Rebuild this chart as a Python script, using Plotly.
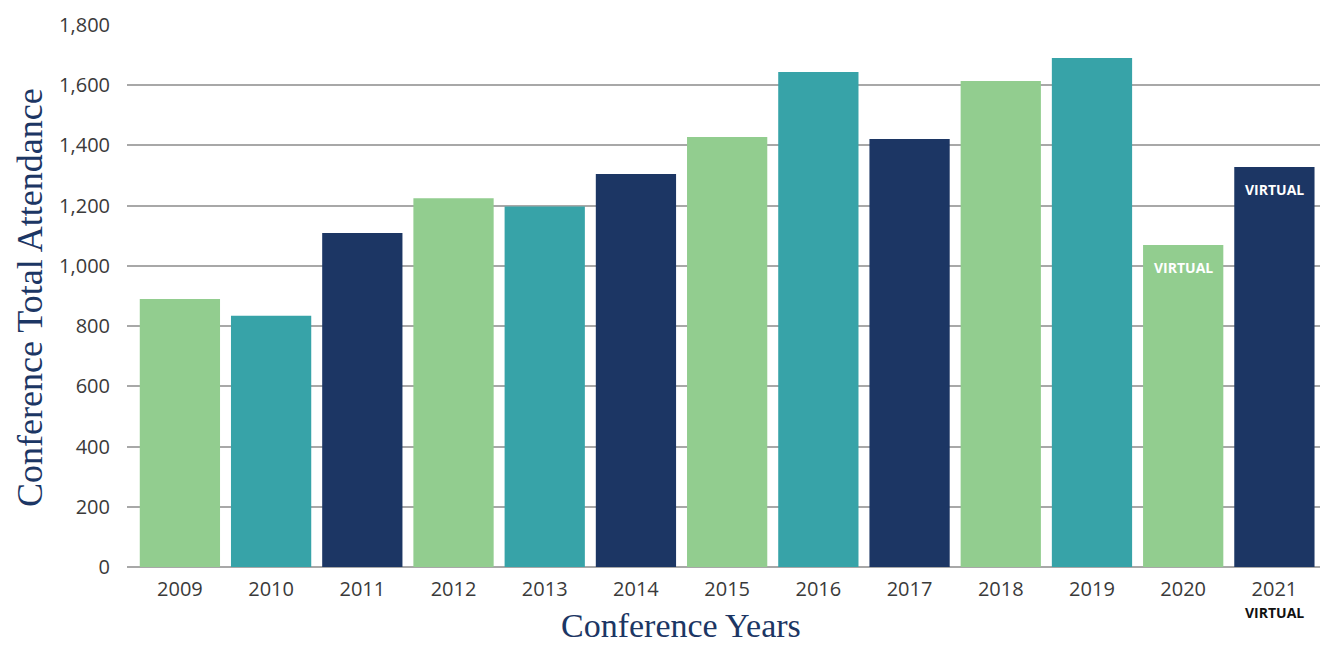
import plotly.graph_objects as go

years = ["2009", "2010", "2011", "2012", "2013", "2014", "2015", "2016", "2017", "2018", "2019", "2020", "2021"]
attendance = [890, 834, 1109, 1225, 1197, 1305, 1428, 1644, 1421, 1614, 1690, 1069, 1328]
GREEN, TEAL, NAVY = "#92CD8F", "#37A3A8", "#1C3664"
bar_colors = [GREEN, TEAL, NAVY, GREEN, TEAL, NAVY, GREEN, TEAL, NAVY, GREEN, TEAL, GREEN, NAVY]
virtual_years = ["2020", "2021"]
y_ticks = [0, 200, 400, 600, 800, 1000, 1200, 1400, 1600, 1800]

fig = go.Figure(go.Bar(x=years, y=attendance, marker=dict(color=bar_colors, line=dict(width=0)),
                       hoverinfo="x+y"))

annotations = []
for yr in virtual_years:
    i = years.index(yr)
    annotations.append(dict(x=i, y=attendance[i], xref="x", yref="y", text="<b>VIRTUAL</b>", showarrow=False,
                            yanchor="middle", yshift=-22,
                            font=dict(family="Open Sans", size=14, color="white")))
annotations.append(dict(x=years.index("2021"), y=0, xref="x", yref="paper", text="<b>VIRTUAL</b>", showarrow=False,
                        yanchor="middle", yshift=-45,
                        font=dict(family="Open Sans", size=14, color="#111111")))
annotations.append(dict(x=(30 - 127) / 1193, y=(567 - 298) / 542, xref="paper", yref="paper",
                        text="Conference Total Attendance", showarrow=False, textangle=-90,
                        xanchor="center", yanchor="middle",
                        font=dict(family="Liberation Serif", size=36, color="#1C3664")))
annotations.append(dict(x=(681 - 127) / 1193, y=-78 / 542, xref="paper", yref="paper",
                        text="Conference Years", showarrow=False, borderpad=0,
                        xanchor="center", yanchor="bottom",
                        font=dict(family="Liberation Serif", size=34, color="#1C3664")))

fig.update_layout(
    width=1320, height=645,
    margin=dict(l=127, r=0, t=25, b=78),
    paper_bgcolor="white", plot_bgcolor="white",
    bargap=0.12,
    showlegend=False,
    annotations=annotations,
    xaxis=dict(type="category", range=[-0.58, 12.5], showgrid=False, showline=False,
               ticks="", ticklabelstandoff=8,
               tickfont=dict(family="Open Sans", size=20, color="#3a3a3a")),
    yaxis=dict(range=[0, 1800], tickvals=y_ticks, tickformat=",d", showgrid=True,
               gridcolor="#A8A8A8", gridwidth=1.5, zeroline=True, zerolinecolor="#A8A8A8",
               zerolinewidth=1.5, showline=False, ticks="", ticklabelstandoff=16,
               tickfont=dict(family="Open Sans", size=20, color="#3a3a3a")),
)

fig.write_html("out.html", config={"displayModeBar": False},
               post_script="document.body.style.margin='0';")
